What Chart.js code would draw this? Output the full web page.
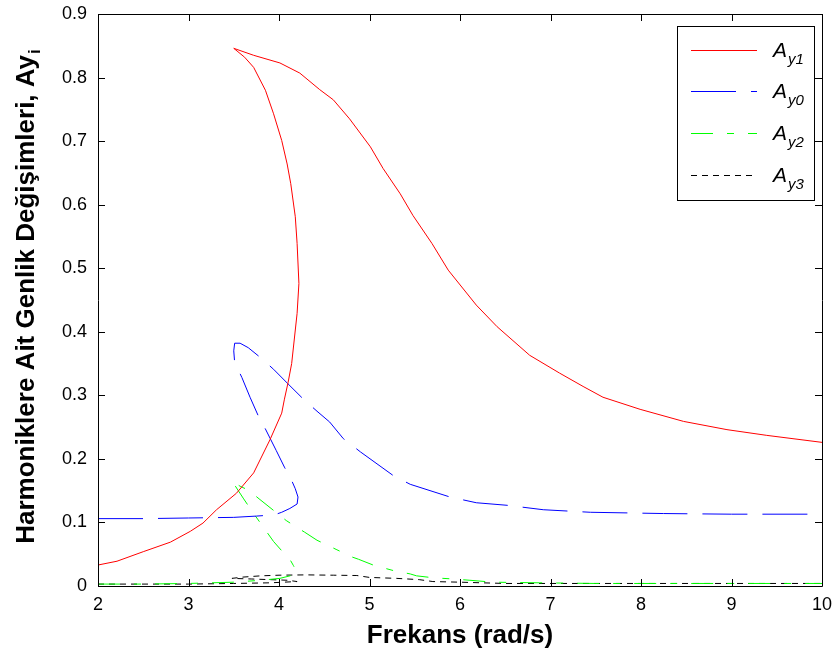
<!DOCTYPE html>
<html>
<head>
<meta charset="utf-8">
<script src="https://cdn.jsdelivr.net/npm/chart.js@4/dist/chart.umd.min.js"></script>
<style>
  html, body { margin: 0; padding: 0; background: #ffffff; }
  #c { display: block; }
</style>
</head>
<body>
<canvas id="c" width="836" height="654"></canvas>
<script>
// ---------------- DATA ----------------
// A_y1 (red, solid): lower branch -> turning middle branch -> upper branch
const ay1X = [2.00, 2.21, 2.50, 2.80, 3.02, 3.16, 3.31, 3.53, 3.72, 3.90, 4.03, 4.06, 4.10, 4.14, 4.20, 4.22,
              4.20, 4.18, 4.13, 4.09, 4.03, 3.94, 3.85, 3.72, 3.62, 3.50,
              3.72, 4.01, 4.23, 4.45, 4.60, 4.78, 5.01, 5.15, 5.34, 5.48, 5.69, 5.87, 6.18, 6.41, 6.77, 7.10,
              7.36, 7.58, 7.99, 8.47, 8.95, 9.39, 10.0];
const ay1Y = [0.033, 0.039, 0.054, 0.069, 0.086, 0.099, 0.120, 0.146, 0.178, 0.230, 0.272, 0.294, 0.320, 0.350, 0.429, 0.476,
              0.539, 0.581, 0.633, 0.664, 0.701, 0.743, 0.780, 0.816, 0.832, 0.846,
              0.835, 0.823, 0.807, 0.781, 0.765, 0.735, 0.691, 0.657, 0.617, 0.583, 0.539, 0.497, 0.442, 0.408, 0.363, 0.335,
              0.314, 0.297, 0.278, 0.259, 0.246, 0.237, 0.226];

// A_y0 (blue, long dashes)
const ay0X = [2.00, 2.50, 3.00, 3.50, 3.75, 3.95, 4.03, 4.12, 4.20, 4.21, 4.18, 4.14,
              4.06, 3.97, 3.85, 3.77, 3.68, 3.59, 3.51, 3.50, 3.51,
              3.57, 3.66, 3.79, 3.94, 4.10, 4.27, 4.42, 4.56, 4.71, 4.90, 5.26, 5.45, 5.89, 6.18, 6.52, 6.92, 7.44, 8.25, 9.00, 10.0];
const ay0Y = [0.106, 0.106, 0.107, 0.108, 0.110, 0.112, 0.116, 0.122, 0.129, 0.140, 0.153, 0.166,
              0.187, 0.213, 0.247, 0.268, 0.297, 0.328, 0.352, 0.370, 0.382,
              0.382, 0.375, 0.360, 0.341, 0.318, 0.294, 0.275, 0.258, 0.232, 0.211, 0.174, 0.160, 0.140, 0.131, 0.127, 0.120, 0.116, 0.114, 0.113, 0.113];

// A_y2 (green, dash-dot)
const ay2X = [2.00, 2.50, 3.00, 3.50, 3.80, 4.01, 4.15, 4.20,
              4.16, 4.12, 4.07, 3.94, 3.83, 3.72, 3.61, 3.50, 3.48,
              3.57, 3.66, 3.79, 4.08, 4.21, 4.28, 4.42, 4.64, 4.80, 4.88, 5.04, 5.27, 5.45, 5.52, 5.70, 5.93, 6.11, 6.37, 6.88, 7.50, 8.50, 10.0];
const ay2Y = [0.003, 0.003, 0.004, 0.006, 0.009, 0.012, 0.017, 0.021,
              0.032, 0.042, 0.049, 0.070, 0.092, 0.114, 0.137, 0.161, 0.165,
              0.157, 0.151, 0.136, 0.103, 0.091, 0.085, 0.072, 0.057, 0.046, 0.042, 0.033, 0.024, 0.019, 0.016, 0.013, 0.011, 0.009, 0.006, 0.005, 0.004, 0.004, 0.004];

// A_y3 (black, short dashes)
const ay3X = [2.00, 3.00, 3.50, 3.90, 4.20,
              4.10, 3.90, 3.70, 3.48,
              3.60, 3.80, 4.00, 4.30, 4.60, 4.86, 5.00, 5.30, 5.55, 5.70, 6.00, 6.50, 7.50, 10.0];
const ay3Y = [0.003, 0.003, 0.004, 0.005, 0.007,
              0.009, 0.010, 0.011, 0.012,
              0.014, 0.016, 0.017, 0.0175, 0.017, 0.0165, 0.0135, 0.012, 0.010, 0.007, 0.006, 0.004, 0.004, 0.004];

const xTicks = [2, 3, 4, 5, 6, 7, 8, 9, 10];
const yTicks = [0, 0.1, 0.2, 0.3, 0.4, 0.5, 0.6, 0.7, 0.8, 0.9];
const seriesNames = ['y1', 'y0', 'y2', 'y3'];
const xTitle = 'Frekans (rad/s)';
const yTitle = 'Harmoniklere Ait Genlik Değişimleri, Ay';
const yTitleSub = 'i';

// ---------------- BUILD ----------------
const toPts = (xs, ys) => xs.map((x, i) => ({ x: x, y: ys[i] }));
const styles = [
  { color: '#ff0000', dash: [] },
  { color: '#0000ff', dash: [45, 15] },
  { color: '#00ff00', dash: [22, 14, 7, 14] },
  { color: '#000000', dash: [6, 5] }
];
const allData = [toPts(ay1X, ay1Y), toPts(ay0X, ay0Y), toPts(ay2X, ay2Y), toPts(ay3X, ay3Y)];

const FONT = '"Liberation Sans", Arial, Helvetica, sans-serif';

const decorPlugin = {
  id: 'decor',
  afterDatasetsDraw(chart) {
    const ctx = chart.ctx;
    const a = chart.chartArea;
    const xs = chart.scales.x, ys = chart.scales.y;
    ctx.save();
    // box
    ctx.strokeStyle = '#000';
    ctx.lineWidth = 1;
    ctx.setLineDash([]);
    ctx.beginPath();
    ctx.rect(Math.round(a.left) + 0.5, Math.round(a.top) + 0.5, Math.round(a.right - a.left), Math.round(a.bottom - a.top));
    ctx.stroke();
    // inner ticks on all four sides
    const TL = 7;
    ctx.beginPath();
    xTicks.forEach(v => {
      const px = Math.round(xs.getPixelForValue(v)) + 0.5;
      ctx.moveTo(px, a.bottom); ctx.lineTo(px, a.bottom - TL);
      ctx.moveTo(px, a.top); ctx.lineTo(px, a.top + TL);
    });
    yTicks.forEach(v => {
      const py = Math.round(ys.getPixelForValue(v)) + 0.5;
      ctx.moveTo(a.left, py); ctx.lineTo(a.left + TL, py);
      ctx.moveTo(a.right, py); ctx.lineTo(a.right - TL, py);
    });
    ctx.stroke();

    // legend
    const lx = 677, ly = 26, lw = 137, lh = 174;
    ctx.fillStyle = '#fff';
    ctx.fillRect(lx, ly, lw, lh);
    ctx.strokeStyle = '#000';
    ctx.strokeRect(lx + 0.5, ly + 0.5, lw, lh);
    const rowY = [50, 91, 133, 175];
    seriesNames.forEach((name, i) => {
      const st = styles[i];
      ctx.strokeStyle = st.color;
      ctx.lineWidth = 1;
      ctx.setLineDash(st.dash);
      ctx.beginPath();
      ctx.moveTo(691, rowY[i] + 0.5);
      ctx.lineTo(757, rowY[i] + 0.5);
      ctx.stroke();
      ctx.setLineDash([]);
      ctx.fillStyle = '#000';
      ctx.textAlign = 'left';
      ctx.textBaseline = 'alphabetic';
      ctx.font = 'italic 21px ' + FONT;
      ctx.fillText('A', 773, rowY[i] + 7);
      const aw = ctx.measureText('A').width;
      ctx.font = 'italic 15px ' + FONT;
      ctx.fillText(name, 773 + aw + 1, rowY[i] + 14);
    });

    // x title
    ctx.fillStyle = '#000';
    ctx.font = 'bold 26px ' + FONT;
    ctx.textAlign = 'center';
    ctx.textBaseline = 'alphabetic';
    ctx.fillText(xTitle, (a.left + a.right) / 2, 643);

    // y title (rotated) with subscript
    ctx.save();
    ctx.translate(34, 297);
    ctx.rotate(-Math.PI / 2);
    ctx.font = 'bold 26px ' + FONT;
    const mw = ctx.measureText(yTitle).width;
    ctx.font = 'bold 17px ' + FONT;
    const sw = ctx.measureText(yTitleSub).width;
    const start = -(mw + sw) / 2;
    ctx.textAlign = 'left';
    ctx.font = 'bold 26px ' + FONT;
    ctx.fillText(yTitle, start, 0);
    ctx.font = 'bold 17px ' + FONT;
    ctx.fillText(yTitleSub, start + mw + 1, 6);
    ctx.restore();

    ctx.restore();
  }
};

const datasets = allData.map((pts, i) => ({
  label: 'A' + seriesNames[i],
  data: pts,
  showLine: true,
  borderColor: styles[i].color,
  backgroundColor: styles[i].color,
  borderWidth: 1,
  borderDash: styles[i].dash,
  pointRadius: 0,
  tension: 0,
  fill: false
}));

const zeroPad = s => { s.paddingTop = 0; s.paddingBottom = 0; s.paddingLeft = 0; s.paddingRight = 0; };

new Chart(document.getElementById('c'), {
  type: 'scatter',
  data: { datasets: datasets },
  options: {
    responsive: false,
    animation: false,
    devicePixelRatio: 1,
    layout: { padding: { left: 0, right: 14, top: 14, bottom: 0 } },
    plugins: { legend: { display: false }, tooltip: { enabled: false } },
    scales: {
      x: {
        type: 'linear', min: 2, max: 10,
        afterFit: s => { s.height = 68; zeroPad(s); },
        afterBuildTicks: s => { s.ticks = xTicks.map(v => ({ value: v })); },
        grid: { display: false, drawTicks: false },
        border: { display: false },
        ticks: { color: '#000', font: { family: FONT, size: 18 }, padding: 8, maxRotation: 0,
                 callback: v => String(v) }
      },
      y: {
        type: 'linear', min: 0, max: 0.9,
        afterFit: s => { s.width = 98; zeroPad(s); },
        afterBuildTicks: s => { s.ticks = yTicks.map(v => ({ value: v })); },
        grid: { display: false, drawTicks: false },
        border: { display: false },
        ticks: { color: '#000', font: { family: FONT, size: 18 }, padding: 11,
                 callback: v => String(Math.round(v * 10) / 10) }
      }
    }
  },
  plugins: [decorPlugin]
});
</script>
</body>
</html>
